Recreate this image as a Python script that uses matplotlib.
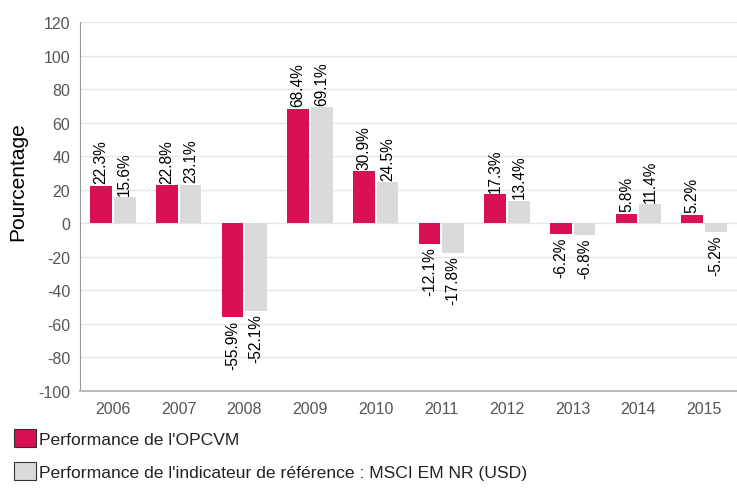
import numpy as np
import matplotlib.pyplot as plt
from matplotlib.patches import Patch

plt.rcParams['font.family'] = ['Liberation Sans', 'DejaVu Sans']
plt.rcParams['axes.unicode_minus'] = False

years = ['2006', '2007', '2008', '2009', '2010', '2011', '2012', '2013', '2014', '2015']
fund = [22.3, 22.8, -55.9, 68.4, 30.9, -12.1, 17.3, -6.2, 5.8, 5.2]
index = [15.6, 23.1, -52.1, 69.1, 24.5, -17.8, 13.4, -6.8, 11.4, -5.2]

col1 = '#d81153'
col2 = '#d9dadc'

fig = plt.figure(figsize=(7.37, 4.89), dpi=100)
ax = fig.add_axes([80/737, 1 - 392/489, 657/737, 369/489])

x = np.arange(len(years))
width = 0.33
b1 = ax.bar(x - width/2 - 0.015, fund, width, color=col1, zorder=3)
b2 = ax.bar(x + width/2 + 0.015, index, width, color=col2, zorder=3)

for bars, vals in ((b1, fund), (b2, index)):
    for r, v in zip(bars, vals):
        cx = r.get_x() + r.get_width()/2
        if v >= 0:
            ax.text(cx, v + 1.5, f'{v:.1f}%', rotation=90, ha='center', va='bottom',
                    fontsize=11.2, color='black')
        else:
            ax.text(cx, v - 1.5, f'{v:.1f}%', rotation=90, ha='center', va='top',
                    fontsize=11.2, color='black')

ax.set_xlim(-0.5, len(years) - 0.5)
ax.set_ylim(-100, 120)
ax.set_yticks(range(-100, 121, 20))
ax.set_xticks(x)
ax.set_xticklabels(years)
ax.tick_params(length=0, labelsize=11.5, colors='#555555', pad=7)
ax.yaxis.grid(True, color='#e6e6e6', linewidth=1, zorder=0)
for s in ['top', 'right']:
    ax.spines[s].set_visible(False)
ax.spines['left'].set_color('#999999')
ax.spines['bottom'].set_color('#bbbbbb')
ax.spines['bottom'].set_linewidth(1.5)
ax.set_ylabel('Pourcentage', fontsize=15, color='black')
ax.yaxis.set_label_coords(-53/657, (392 - 182)/369)

handles = [Patch(facecolor=col1, edgecolor='#333333', linewidth=0.8),
           Patch(facecolor=col2, edgecolor='#333333', linewidth=0.8)]
labels = ["Performance de l'OPCVM",
          "Performance de l'indicateur de référence : MSCI EM NR (USD)"]
fig.legend(handles, labels, loc='upper left', bbox_to_anchor=(0.0, 1 - 416/489),
           frameon=False, fontsize=12.6, handlelength=1.25, handleheight=1.2,
           handletextpad=0.2, labelspacing=0.85, borderaxespad=0.4,
           labelcolor='#222222')

fig.savefig('out.png', dpi=100)
